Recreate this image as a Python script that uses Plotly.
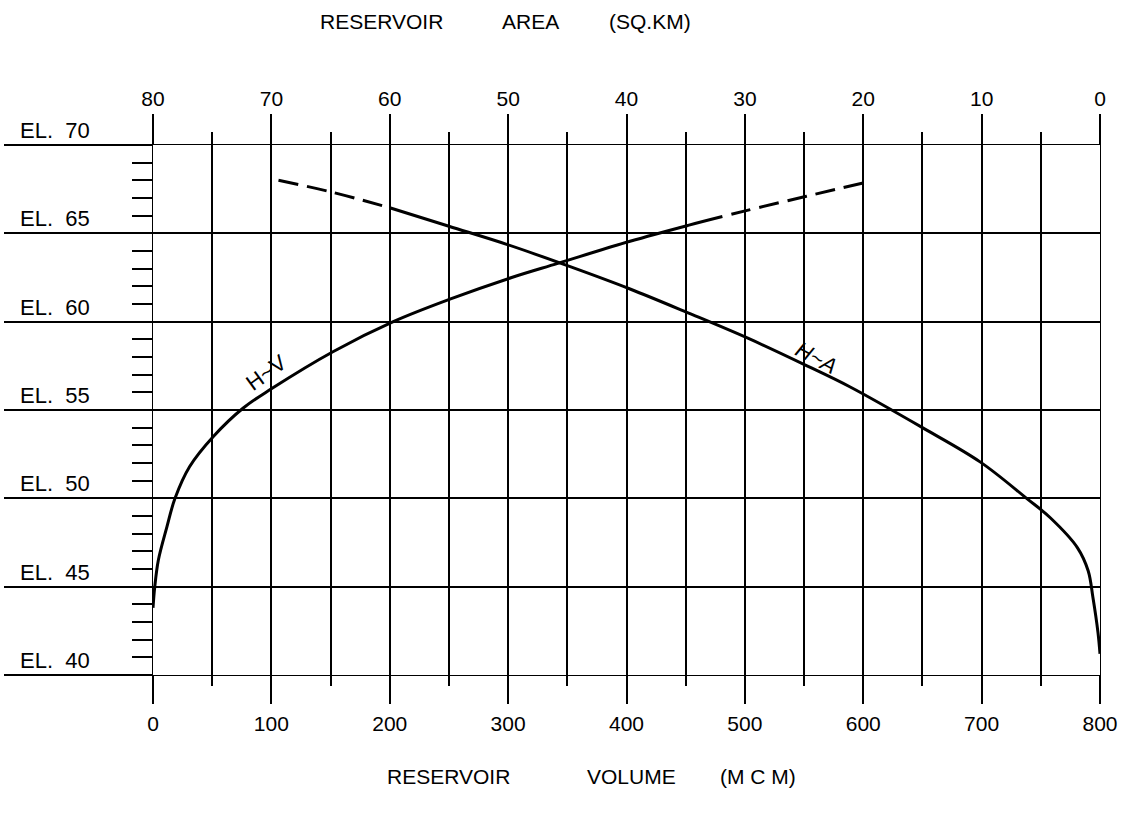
import plotly.graph_objects as go

# ---- data ----
hv_volume_solid = [0, 1.5, 4.5, 11.8, 18.6, 31, 51, 76, 100, 152, 203, 252, 303, 342, 403, 452, 481]
hv_elev_solid = [43.8, 45.0, 46.5, 48.4, 50.0, 51.8, 53.5, 55.1, 56.2, 58.3, 60.0, 61.3, 62.5, 63.3, 64.55, 65.45, 65.95]
hv_volume_dash = [481, 502, 552, 606]
hv_elev_dash = [65.95, 66.3, 67.1, 67.95]

ha_area_solid = [0, 0.17, 0.6, 1.0, 1.9, 4.2, 6.2, 10.1, 15.0, 21.1, 24.75, 29.7, 34.8, 39.7, 44.7, 50, 55, 60]
ha_elev_solid = [41.2, 42.4, 44.4, 45.9, 47.2, 48.9, 50.0, 52.05, 54.0, 56.3, 57.5, 59.05, 60.5, 61.85, 63.1, 64.35, 65.4, 66.45]
ha_area_dash = [69.4, 65, 60]
ha_elev_dash = [68.0, 67.35, 66.45]

el_levels = [40, 45, 50, 55, 60, 65, 70]
el_labels = ["EL.\u00a0\u00a040", "EL.\u00a0\u00a045", "EL.\u00a0\u00a050", "EL.\u00a0\u00a055",
             "EL.\u00a0\u00a060", "EL.\u00a0\u00a065", "EL.\u00a0\u00a070"]

W, H = 1128, 824
L, R, T, B = 153, 28, 145, 149
PW, PH = W - L - R, H - T - B
FONT = "Liberation Sans"


def px(x):
    return (x - L) / PW


def py(y):
    return (H - B - y) / PH


fig = go.Figure()
line = dict(color="black", width=3)
fig.add_trace(go.Scatter(x=hv_volume_solid, y=hv_elev_solid, mode="lines",
                         line=dict(line, shape="spline", smoothing=1.0), xaxis="x", yaxis="y",
                         showlegend=False, hoverinfo="skip"))
fig.add_trace(go.Scatter(x=hv_volume_dash, y=hv_elev_dash, mode="lines",
                         line=dict(line, dash="0px,9px,20px,0px", shape="spline", smoothing=1.0),
                         xaxis="x", yaxis="y", showlegend=False, hoverinfo="skip"))
fig.add_trace(go.Scatter(x=ha_area_solid, y=ha_elev_solid, mode="lines",
                         line=dict(line, shape="spline", smoothing=1.0), xaxis="x2", yaxis="y",
                         showlegend=False, hoverinfo="skip"))
fig.add_trace(go.Scatter(x=ha_area_dash, y=ha_elev_dash, mode="lines",
                         line=dict(line, dash="20px,9px", shape="spline", smoothing=1.0),
                         xaxis="x2", yaxis="y", showlegend=False, hoverinfo="skip"))

tickfont = dict(family=FONT, size=21, color="black")

fig.update_layout(
    width=W, height=H,
    margin=dict(l=L, r=R, t=T, b=B, pad=0, autoexpand=False),
    paper_bgcolor="white", plot_bgcolor="white",
    xaxis=dict(range=[0, 800], tickmode="linear", tick0=0, dtick=100, automargin=False,
               ticks="outside", ticklen=28, tickwidth=2, tickcolor="black",
               showgrid=True, gridcolor="black", gridwidth=2,
               zeroline=True, zerolinecolor="black", zerolinewidth=6,
               showline=True, linecolor="black", linewidth=1, mirror=True,
               tickfont=tickfont, ticklabelstandoff=2,
               minor=dict(dtick=50, tick0=0, ticks="outside", ticklen=10, tickwidth=2,
                          tickcolor="black", showgrid=True, gridcolor="black", gridwidth=2)),
    xaxis2=dict(range=[80, 0], overlaying="x", side="top", anchor="y", automargin=False,
                tickmode="linear", tick0=0, dtick=10,
                ticks="outside", ticklen=30, tickwidth=2, tickcolor="black",
                showgrid=False, zeroline=False, showline=False,
                tickfont=tickfont, ticklabelstandoff=0,
                minor=dict(dtick=5, tick0=0, ticks="outside", ticklen=12, tickwidth=2,
                           tickcolor="black", showgrid=False)),
    yaxis=dict(range=[40, 70], tickmode="array", tickvals=el_levels, automargin=False,
               showticklabels=False,
               ticks="outside", ticklen=148, tickwidth=1.5, tickcolor="black",
               showgrid=True, gridcolor="black", gridwidth=1.5,
               zeroline=False, showline=True, linecolor="black", linewidth=1, mirror=True,
               minor=dict(dtick=1, tick0=40, ticks="outside", ticklen=20, tickwidth=1.5,
                          tickcolor="black", showgrid=False)),
)

annotations = []
for lv, lab in zip(el_levels, el_labels):
    annotations.append(dict(x=px(18), xref="paper", y=lv, yref="y", text=lab,
                            xanchor="left", yanchor="bottom", yshift=0, showarrow=False,
                            font=dict(family=FONT, size=22, color="black")))

title_font = dict(family=FONT, size=21, color="black")
for word, x0, y0 in [("RESERVOIR", 318, 21), ("AREA", 500, 21), ("(SQ.KM)", 607, 21),
                     ("RESERVOIR", 385, 776), ("VOLUME", 585, 776), ("(M C M)", 718, 776)]:
    annotations.append(dict(x=px(x0), y=py(y0), xref="paper", yref="paper", text=word,
                            xanchor="left", yanchor="middle", showarrow=False, font=title_font))

annotations.append(dict(x=px(266), y=py(372), xref="paper", yref="paper", text="H~V",
                        textangle=-36, showarrow=False, xanchor="center", yanchor="middle",
                        font=dict(family=FONT, size=22, color="black")))
annotations.append(dict(x=px(816), y=py(357), xref="paper", yref="paper", text="<i>H~A</i>",
                        textangle=28, showarrow=False, xanchor="center", yanchor="middle",
                        font=dict(family=FONT, size=22, color="black")))

fig.update_layout(annotations=annotations)
fig.write_html("out.html", config={"displayModeBar": False},
               post_script="document.body.style.margin='0px';document.body.style.overflow='hidden';")
